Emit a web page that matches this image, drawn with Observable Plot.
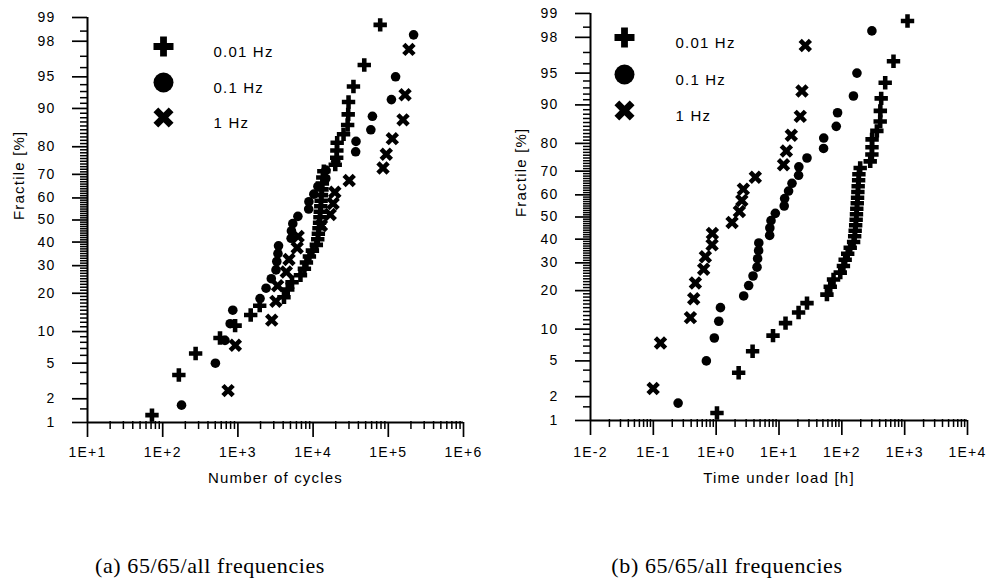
<!DOCTYPE html>
<html><head><meta charset="utf-8">
<script src="https://cdn.jsdelivr.net/npm/d3@7"></script>
<script src="https://cdn.jsdelivr.net/npm/@observablehq/plot@0.6"></script>
<style>
body{margin:0;background:#fff;}
#wrap{position:relative;width:990px;height:582px;overflow:hidden;background:#fff;}
.panel{position:absolute;top:0;}
.panel svg text{letter-spacing:1.2px;}
.cap{position:absolute;top:553px;font-family:"Liberation Serif","Times New Roman",serif;font-size:22px;letter-spacing:0.6px;white-space:nowrap;transform:translateX(-50%);color:#000;}
</style></head><body>
<div id="wrap">
<div id="pa" class="panel" style="left:0"></div>
<div id="pb" class="panel" style="left:495px"></div>
<div class="cap" style="left:210px">(a) 65/65/all frequencies</div>
<div class="cap" style="left:727px">(b) 65/65/all frequencies</div>
</div>
<script>
// ---------------- data ----------------
const seriesNames = ["0.01 Hz", "0.1 Hz", "1 Hz"];

const plusFractile = [1.25,3.75,6.25,8.75,11.25,13.75,16.25,18.75,21.25,23.75,26.25,28.75,31.25,33.75,36.25,38.75,41.25,43.75,46.25,48.75,51.25,53.75,56.25,58.75,61.25,63.75,66.25,68.75,71.25,73.75,76.25,78.75,81.25,83.75,86.25,88.75,91.25,93.75,96.25,98.75];
const plusCycles = [72,164,274,578,918,1480,1950,4100,4600,5250,6790,7660,8150,8930,9790,11040,11530,11750,11970,12190,12330,12450,12650,12790,12920,13120,13270,13460,13900,19700,20600,20700,20900,25400,28800,29300,29600,34400,47900,78000];
const plusHours = [1.03,2.28,3.80,8.03,12.7,20.5,27.9,57.9,65.4,73.8,94.4,106,113,124,136,154,160,163,166,169,171,173,176,178,180,182,185,187,196,283,301,302,303,361,408,410,423,490,664,1110];

const dotFractile = [1.67,5,8.33,11.67,15,18.33,21.67,25,28.33,31.67,35,38.33,41.67,45,48.33,51.67,55,58.33,61.67,65,68.33,71.67,75,78.33,81.67,85,88.33,91.67,95,98.33];
const dotCycles = [178,502,673,789,855,1970,2370,2780,3210,3290,3410,3470,5100,5150,5370,6280,8730,8800,10230,11590,14760,14800,20000,36800,37200,58600,61500,110000,125000,217000];
const dotHours = [0.248,0.698,0.935,1.10,1.17,2.74,3.29,3.86,4.47,4.57,4.74,4.77,7.10,7.15,7.46,8.74,12.1,12.3,14.2,16.1,20.5,20.7,27.9,51.2,51.5,81.5,85.5,153,174,301];

const timesFractile = [2.5,7.5,12.5,17.5,22.5,27.5,32.5,37.5,42.5,47.5,52.5,57.5,62.5,67.5,72.5,77.5,82.5,87.5,92.5,97.5];
const timesCycles = [740,925,2815,3200,3370,4400,4780,6140,6330,12900,16900,18450,19450,30200,85100,94000,113000,157000,167000,188000];
const timesHours = [0.0993,0.130,0.389,0.439,0.467,0.632,0.673,0.861,0.870,1.79,2.34,2.56,2.71,4.20,11.8,13.1,15.7,21.8,23.2,26.2];

const yMajorTicks = [1,2,5,10,20,30,40,50,60,70,80,90,95,98,99];
const yMinorTicks = [1.5,3,4,6,7,8,9].concat(d3.range(11,90).filter(v => v % 10 !== 0), [91,92,93,94,96,97,98.5]);
const xMajorA = [1e1,1e2,1e3,1e4,1e5,1e6];
const xMajorB = [1e-2,1e-1,1e0,1e1,1e2,1e3,1e4];

// ---------------- helpers ----------------
function probit(p){
  const a=[-3.969683028665376e+01,2.209460984245205e+02,-2.759285104469687e+02,1.383577518672690e+02,-3.066479806614716e+01,2.506628277459239e+00];
  const b=[-5.447609879822406e+01,1.615858368580409e+02,-1.556989798598866e+02,6.680131188771972e+01,-1.328068155288572e+01];
  const c=[-7.784894002430293e-03,-3.223964580411365e-01,-2.400758277161838e+00,-2.549732539343734e+00,4.374664141464968e+00,2.938163982698783e+00];
  const d=[7.784695709041462e-03,3.224671290700398e-01,2.445134137142996e+00,3.754408661907416e+00];
  const pl=0.02425, ph=1-pl; let q,r;
  if(p<pl){q=Math.sqrt(-2*Math.log(p));return (((((c[0]*q+c[1])*q+c[2])*q+c[3])*q+c[4])*q+c[5])/((((d[0]*q+d[1])*q+d[2])*q+d[3])*q+1);}
  if(p<=ph){q=p-0.5;r=q*q;return (((((a[0]*r+a[1])*r+a[2])*r+a[3])*r+a[4])*r+a[5])*q/(((((b[0]*r+b[1])*r+b[2])*r+b[3])*r+b[4])*r+1);}
  q=Math.sqrt(-2*Math.log(1-p));return -(((((c[0]*q+c[1])*q+c[2])*q+c[3])*q+c[4])*q+c[5])/((((d[0]*q+d[1])*q+d[2])*q+d[3])*q+1);
}
const zOf = pct => probit(pct/100);

const plusSymbol = {draw(ctx,size){const r=Math.sqrt(size/Math.PI),t=r*0.34;
  ctx.moveTo(-r,-t);ctx.lineTo(-t,-t);ctx.lineTo(-t,-r);ctx.lineTo(t,-r);ctx.lineTo(t,-t);ctx.lineTo(r,-t);
  ctx.lineTo(r,t);ctx.lineTo(t,t);ctx.lineTo(t,r);ctx.lineTo(-t,r);ctx.lineTo(-t,t);ctx.lineTo(-r,t);ctx.closePath();}};
const timesSymbol = {draw(ctx,size){const r=Math.sqrt(size/Math.PI),A=r*1.08,B=r*0.34,k=Math.SQRT1_2;
  const pts=[[-A,-B],[-B,-B],[-B,-A],[B,-A],[B,-B],[A,-B],[A,B],[B,B],[B,A],[-B,A],[-B,B],[-A,B]];
  pts.forEach(([x,y],i)=>{const X=(x-y)*k,Y=(x+y)*k;i?ctx.lineTo(X,Y):ctx.moveTo(X,Y);});ctx.closePath();}};

const symbols = [plusSymbol, "circle", timesSymbol];
const dataR = [6.7, 4.8, 6.7];

function rows(fr, xs){ return fr.map((p,i)=>({p, x: xs[i]})); }
const fmtE = v => { const e = Math.round(Math.log10(v)); return "1E" + (e < 0 ? "-" : "+") + Math.abs(e); };
function minorX(domain){ const out=[]; for(let e=Math.round(Math.log10(domain[0])); e<Math.round(Math.log10(domain[1])); e++){ for(let m=2;m<=9;m++) out.push(m*Math.pow(10,e)); } return out; }

function panel(cfg){
  const W = 495, H = 500, fw = W - cfg.ml - cfg.mr, fh = H - cfg.mt - cfg.mb;
  const marks = [
    // y ticks (outward, left)
    Plot.tickY(yMinorTicks.map(zOf), {y: d => d, insetLeft: -7, insetRight: fw, strokeWidth: 1.5}),
    Plot.tickY(yMajorTicks.map(zOf), {y: d => d, insetLeft: -15, insetRight: fw, strokeWidth: 1.7}),
    Plot.text(yMajorTicks, {y: d => zOf(d), text: d => String(d), frameAnchor: "left", dx: -32, textAnchor: "end", fontSize: 14}),
    // x ticks (outward, bottom)
    Plot.tickX(minorX(cfg.domain), {x: d => d, insetTop: fh - 1, insetBottom: -7, strokeWidth: 1.5}),
    Plot.tickX(cfg.major, {x: d => d, insetTop: fh, insetBottom: -15, strokeWidth: 1.7}),
    Plot.text(cfg.major, {x: d => d, text: fmtE, frameAnchor: "bottom", dy: cfg.xPad, lineAnchor: "top", fontSize: 14}),
    // axis lines
    Plot.ruleY([zOf(1)], {strokeWidth: 2}),
    Plot.ruleX([cfg.domain[0]], {strokeWidth: 2}),
    Plot.text([cfg.xLabel], {frameAnchor: "bottom", dy: cfg.xLabelDy, fontSize: 15}),
    Plot.text(["Fractile [%]"], {frameAnchor: "left", dx: cfg.yLabelDx, rotate: -90, fontSize: 15})
  ];
  cfg.series.forEach((s,k)=>{
    marks.push(Plot.dot(rows(s.fr, s.xs), {x: "x", y: d => zOf(d.p), symbol: symbols[k], r: dataR[k], fill: "black", stroke: "none"}));
  });
  seriesNames.forEach((name,k)=>{
    marks.push(Plot.dot([name], {frameAnchor: "top-left", dx: cfg.legSymDx, dy: cfg.legDy[k], symbol: symbols[k], r: 10, fill: "black", stroke: "none"}));
    marks.push(Plot.text([name], {frameAnchor: "top-left", dx: cfg.legTextDx, dy: cfg.legDy[k], textAnchor: "start", fontSize: 15}));
  });
  return Plot.plot({
    width: W, height: H, marginLeft: cfg.ml, marginRight: cfg.mr, marginTop: cfg.mt, marginBottom: cfg.mb,
    style: {fontFamily: "'Liberation Sans', Arial, sans-serif", fontSize: "14px", color: "black", background: "white", overflow: "visible"},
    x: {type: "log", domain: cfg.domain, axis: null},
    y: {type: "linear", domain: [zOf(1), zOf(99)], axis: null},
    marks
  });
}

document.getElementById("pa").append(panel({
  ml: 87, mr: 32, mt: 17, mb: 78, domain: [1e1,1e6], major: xMajorA, xPad: 25,
  xLabel: "Number of cycles", xLabelDy: 60, yLabelDx: -68,
  legSymDx: 76, legTextDx: 126, legDy: [29,65,100],
  series: [{fr: plusFractile, xs: plusCycles},{fr: dotFractile, xs: dotCycles},{fr: timesFractile, xs: timesCycles}]
}));
document.getElementById("pb").append(panel({
  ml: 95, mr: 23, mt: 13, mb: 80, domain: [1e-2,1e4], major: xMajorB, xPad: 27,
  xLabel: "Time under load [h]", xLabelDy: 62, yLabelDx: -69,
  legSymDx: 34, legTextDx: 85, legDy: [24,61,97],
  series: [{fr: plusFractile, xs: plusHours},{fr: dotFractile, xs: dotHours},{fr: timesFractile, xs: timesHours}]
}));
</script>
</body></html>
